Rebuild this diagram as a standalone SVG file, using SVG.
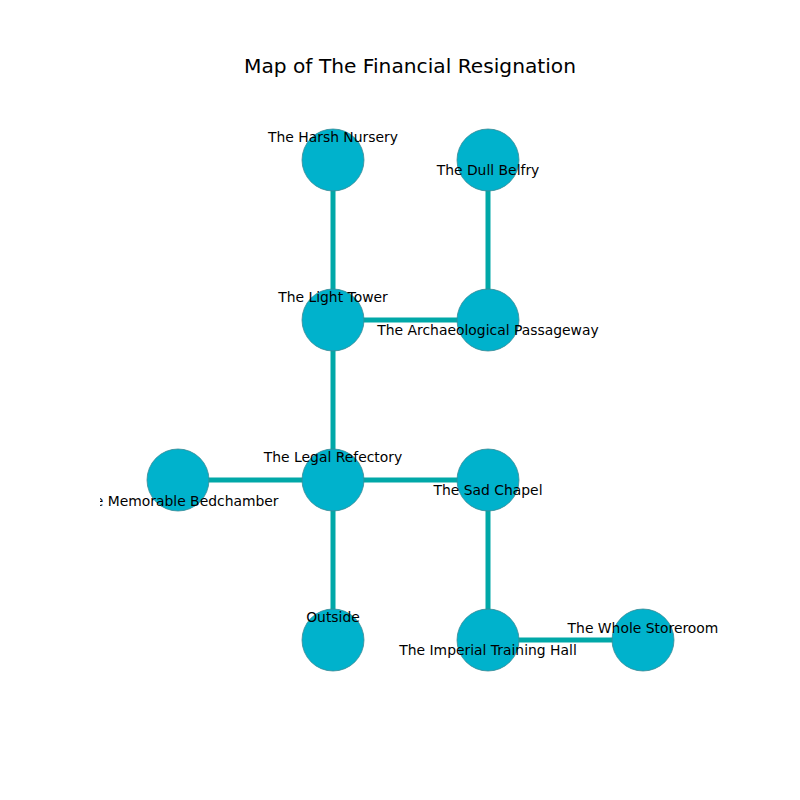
<svg xmlns="http://www.w3.org/2000/svg" width="800" height="800" viewBox="0 0 800 800">
<style>
.edge{stroke:#00a8a8;stroke-width:5;fill:none}
.node circle{fill:#00b2cc;stroke:#3a8a96;stroke-width:0.8}
.lbl{font-family:"DejaVu Sans",sans-serif;font-size:13.9px;fill:#000;text-anchor:middle;dominant-baseline:central}
.title{font-family:"DejaVu Sans",sans-serif;font-size:20.2px;fill:#000;text-anchor:middle}
</style>
<defs>
<clipPath id="ax"><rect x="100" y="96" width="620" height="608"/></clipPath>
</defs>
<rect width="800" height="800" fill="#fff"/>
<text class="title" x="410" y="73">Map of The Financial Resignation</text>
<g id="edges">
<line class="edge" x1="333" y1="160" x2="333" y2="320"/>
<line class="edge" x1="488" y1="160" x2="488" y2="320"/>
<line class="edge" x1="333" y1="320" x2="488" y2="320"/>
<line class="edge" x1="333" y1="320" x2="333" y2="480"/>
<line class="edge" x1="178" y1="480" x2="333" y2="480"/>
<line class="edge" x1="333" y1="480" x2="488" y2="480"/>
<line class="edge" x1="333" y1="480" x2="333" y2="640"/>
<line class="edge" x1="488" y1="480" x2="488" y2="640"/>
<line class="edge" x1="488" y1="640" x2="643" y2="640"/>
</g>
<g clip-path="url(#ax)">
<g id="harsh-nursery" class="node"><circle cx="333" cy="160" r="31"/><text class="lbl" x="333" y="137">The Harsh Nursery</text></g>
<g id="dull-belfry" class="node"><circle cx="488" cy="160" r="31"/><text class="lbl" x="488" y="170">The Dull Belfry</text></g>
<g id="light-tower" class="node"><circle cx="333" cy="320" r="31"/><text class="lbl" x="333" y="297">The Light Tower</text></g>
<g id="archaeological-passageway" class="node"><circle cx="488" cy="320" r="31"/><text class="lbl" x="488" y="330">The Archaeological Passageway</text></g>
<g id="memorable-bedchamber" class="node"><circle cx="178" cy="480" r="31"/><text class="lbl" x="178" y="501">The Memorable Bedchamber</text></g>
<g id="legal-refectory" class="node"><circle cx="333" cy="480" r="31"/><text class="lbl" x="333" y="457">The Legal Refectory</text></g>
<g id="sad-chapel" class="node"><circle cx="488" cy="480" r="31"/><text class="lbl" x="488" y="490">The Sad Chapel</text></g>
<g id="outside" class="node"><circle cx="333" cy="640" r="31"/><text class="lbl" x="333" y="617">Outside</text></g>
<g id="imperial-training-hall" class="node"><circle cx="488" cy="640" r="31"/><text class="lbl" x="488" y="650">The Imperial Training Hall</text></g>
<g id="whole-storeroom" class="node"><circle cx="643" cy="640" r="31"/><text class="lbl" x="643" y="628">The Whole Storeroom</text></g>
</g>
</svg>
